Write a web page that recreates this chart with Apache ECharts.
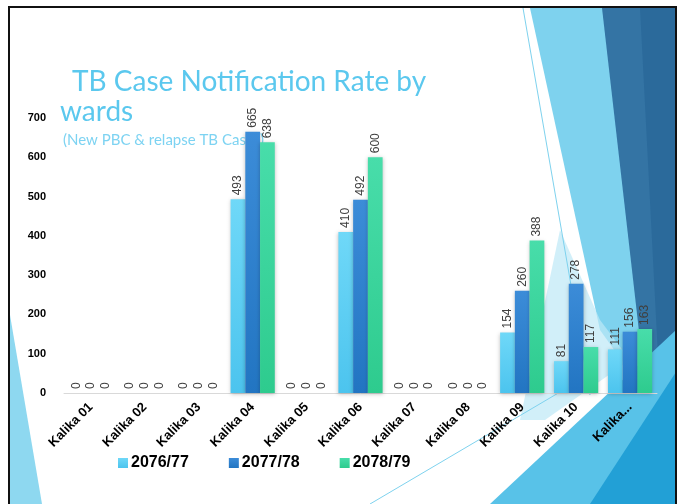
<!DOCTYPE html>
<html>
<head>
<meta charset="utf-8">
<script src="https://cdn.jsdelivr.net/npm/echarts@6/dist/echarts.min.js"></script>
<style>
  html, body { margin: 0; padding: 0; background: #fff; }
  #chart { width: 683px; height: 504px; }
</style>
</head>
<body>
<div id="chart"></div>
<script>
// wards
const categories = ['Kalika 01', 'Kalika 02', 'Kalika 03', 'Kalika 04', 'Kalika 05', 'Kalika 06',
  'Kalika 07', 'Kalika 08', 'Kalika 09', 'Kalika 10', 'Kalika...']
const seriesNames = ['2076/77', '2077/78', '2078/79']
const fy7677 = [0, 0, 0, 493, 0, 410, 0, 0, 154, 81, 111]
const fy7778 = [0, 0, 0, 665, 0, 492, 0, 0, 260, 278, 156]
const fy7879 = [0, 0, 0, 638, 0, 600, 0, 0, 388, 117, 163]
const yTicks = [0, 100, 200, 300, 400, 500, 600, 700]

const chart = echarts.init(document.getElementById('chart'))

function grad(top, bottom) {
  return new echarts.graphic.LinearGradient(0, 0, 0, 1, [
    { offset: 0, color: top },
    { offset: 1, color: bottom },
  ])
}

function barSeries(name, data, top, bottom) {
  return {
    name: name,
    type: 'bar',
    data: data,
    barGap: '0%',
    barCategoryGap: '18%',
    itemStyle: {
      color: grad(top, bottom),
      shadowBlur: 4,
      shadowColor: 'rgba(0,0,0,0.25)',
      shadowOffsetY: 1,
    },
    label: {
      show: true,
      position: 'top',
      rotate: 90,
      align: 'left',
      verticalAlign: 'middle',
      distance: 4,
      color: '#404040',
      fontSize: 12,
      fontFamily: 'Liberation Sans',
    },
  }
}

// slide decoration (not data)
const deco = [
  { type: 'polygon', z: -10, shape: { points: [[10, 315], [10, 504], [42, 504]] }, style: { fill: '#8ED8F0' } },
  { type: 'polygon', z: -10, shape: { points: [[530, 8], [620, 8], [650, 400], [600, 330]] }, style: { fill: '#7ED2EE' } },
  { type: 'polygon', z: -9, shape: { points: [[560, 230], [600, 320], [630, 360], [545, 420], [520, 420]] }, style: { fill: 'rgba(190,232,247,0.7)' } },
  { type: 'polygon', z: -9, shape: { points: [[602, 8], [676, 8], [676, 370], [648, 410]] }, style: { fill: '#3474A4' } },
  { type: 'polygon', z: -9, shape: { points: [[640, 8], [676, 8], [676, 370], [660, 395]] }, style: { fill: '#2B6A9B' } },
  { type: 'polygon', z: -8, shape: { points: [[490, 504], [676, 330], [676, 504]] }, style: { fill: '#58C2E8' } },
  { type: 'polygon', z: -7, shape: { points: [[590, 504], [676, 372], [676, 504]] }, style: { fill: '#22A0D6' } },
  { type: 'line', z: -6, shape: { x1: 523, y1: 8, x2: 590, y2: 395 }, style: { stroke: '#7ED2EE', lineWidth: 1 } },
  { type: 'line', z: -6, shape: { x1: 370, y1: 504, x2: 560, y2: 392 }, style: { stroke: '#7ED2EE', lineWidth: 1 } },
  // slide frame
  { type: 'line', z: 100, shape: { x1: 8, y1: 7, x2: 677, y2: 7 }, style: { stroke: '#111', lineWidth: 2 } },
  { type: 'line', z: 100, shape: { x1: 9, y1: 7, x2: 9, y2: 504 }, style: { stroke: '#111', lineWidth: 2 } },
  { type: 'line', z: 100, shape: { x1: 676, y1: 7, x2: 676, y2: 504 }, style: { stroke: '#111', lineWidth: 2 } },
]

const titleStyle = {
  color: '#5BC8EE',
  fontSize: 28,
  fontWeight: 'normal',
  fontFamily: 'Lato',
}

const option = {
  backgroundColor: '#fff',
  animation: false,
  title: [
    { text: 'TB Case Notification Rate by', left: 67, top: 63, z: 0, textStyle: titleStyle },
    { text: 'wards', left: 55, top: 93, z: 0, textStyle: titleStyle },
    {
      text: '(New PBC & relapse TB Cases)',
      left: 58,
      top: 128,
      z: 0,
      textStyle: {
        color: '#7DD3F2',
        fontSize: 15,
        fontWeight: 'normal',
        fontFamily: 'Lato',
      },
    },
  ],
  legend: {
    left: 113,
    top: 450,
    itemWidth: 10,
    itemHeight: 10,
    itemGap: 40,
    icon: 'rect',
    data: seriesNames,
    textStyle: {
      color: '#000',
      fontSize: 16,
      fontWeight: 'bold',
      fontFamily: 'Liberation Sans',
      padding: [0, 0, 0, -2],
    },
  },
  grid: {
    left: 64,
    right: 26,
    top: 118,
    bottom: 111,
    containLabel: false,
  },
  xAxis: {
    type: 'category',
    data: categories,
    axisLine: { lineStyle: { color: '#D9D9D9', width: 1 } },
    axisTick: { show: false },
    axisLabel: {
      rotate: 45,
      interval: 0,
      margin: 12,
      color: '#000',
      fontSize: 13,
      fontWeight: 'bold',
      fontFamily: 'Liberation Sans',
    },
  },
  yAxis: {
    type: 'value',
    min: yTicks[0],
    max: yTicks[yTicks.length - 1],
    interval: 100,
    axisLine: { show: false },
    axisTick: { show: false },
    splitLine: { show: false },
    axisLabel: {
      margin: 18,
      color: '#000',
      fontSize: 11,
      fontWeight: 'bold',
      fontFamily: 'Liberation Sans',
    },
  },
  graphic: { elements: deco },
  series: [
    barSeries(seriesNames[0], fy7677, '#6FD8F8', '#4CC4EE'),
    barSeries(seriesNames[1], fy7778, '#3C8CD8', '#2275C2'),
    barSeries(seriesNames[2], fy7879, '#48DDAA', '#2ECB8E'),
  ],
}

chart.setOption(option)
</script>
</body>
</html>
